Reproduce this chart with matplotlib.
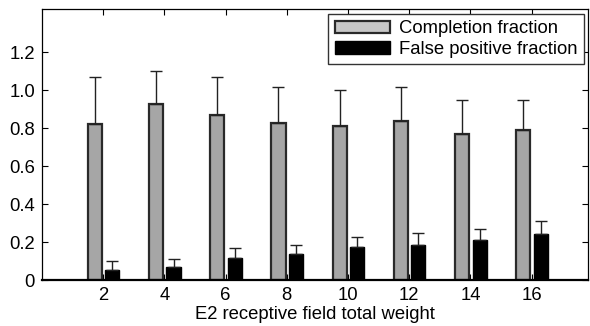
import matplotlib
matplotlib.use("Agg")
from matplotlib import pyplot as plt
import matplotlib.patches as mpatches
import numpy as np

plt.rcParams['font.family'] = ['Liberation Sans', 'DejaVu Sans']

# receptive field total weight
weights = [2, 4, 6, 8, 10, 12, 14, 16]
# completion fraction, mean and upper error
completion = [0.82, 0.93, 0.87, 0.83, 0.81, 0.84, 0.77, 0.79]
completion_err = [0.25, 0.17, 0.20, 0.19, 0.19, 0.18, 0.18, 0.16]
# false positive fraction, mean and upper error
false_pos = [0.055, 0.068, 0.115, 0.135, 0.175, 0.185, 0.21, 0.245]
false_pos_err = [0.043, 0.042, 0.052, 0.051, 0.054, 0.062, 0.06, 0.068]
yticks = [0, 0.2, 0.4, 0.6, 0.8, 1.0, 1.2]
ytick_labels = ['0', '0.2', '0.4', '0.6', '0.8', '1.0', '1.2']

fig = plt.figure(figsize=(5.9, 3.26), dpi=100)
ax = fig.add_axes([0.071, 0.141, 0.926, 0.831])

x = np.array(weights)
w = 0.46
grey = '#a6a6a6'
edge = '#2a2a2a'
fs = 13.3

# Słupki z błędami tylko w górę
ax.bar(x - 0.27, completion, w, color=grey, edgecolor=edge, linewidth=1.6,
       yerr=[np.zeros(len(x)), completion_err], error_kw=dict(ecolor='#222222', elinewidth=1, capsize=4, capthick=1))
ax.bar(x + 0.30, false_pos, w, color='black', edgecolor='black', linewidth=1,
       yerr=[np.zeros(len(x)), false_pos_err], error_kw=dict(ecolor='#222222', elinewidth=1, capsize=4, capthick=1))

ax.set_xlim(0, 17.85)
ax.set_ylim(0, 1.428)
ax.set_xticks(weights)
ax.set_yticks(yticks)
ax.set_yticklabels(ytick_labels)
ax.tick_params(direction='in', top=True, right=True, labelsize=fs, length=4, width=0.8, pad=5)
for s in ax.spines.values():
    s.set_linewidth(0.9)
ax.spines['bottom'].set_linewidth(1.6)
ax.set_xlabel('E2 receptive field total weight', fontsize=fs, labelpad=1.5)

legend = [
    mpatches.Patch(facecolor='#c8c8c8', edgecolor=edge, linewidth=1.6, label='Completion fraction'),
    mpatches.Patch(facecolor='black', edgecolor='black', label='False positive fraction'),
]
ax.legend(handles=legend, loc='upper right', fontsize=fs, frameon=True, fancybox=False,
          edgecolor='#333333', framealpha=1, borderpad=0.35, handlelength=3.0, handleheight=0.65,
          labelspacing=0.2, handletextpad=0.45, borderaxespad=0.25)

fig.savefig('out.png', dpi=100)
